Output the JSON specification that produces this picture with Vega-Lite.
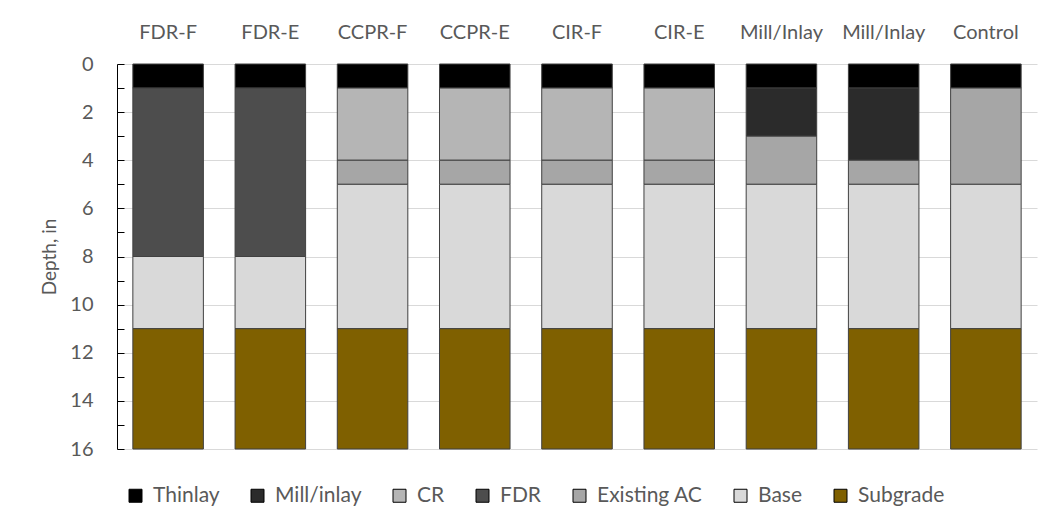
{
  "$schema": "https://vega.github.io/schema/vega-lite/v6.json",
  "width": 920,
  "height": 385,
  "autosize": {"type": "none"},
  "padding": {"left": 117, "top": 64, "right": 10, "bottom": 80},
  "background": "white",
  "config": {
    "view": {"stroke": null},
    "font": "Lato",
    "axis": {"labelFont": "Lato", "titleFont": "Lato"},
    "legend": {"labelFont": "Lato"}
  },
  "data": {
    "values": [
      {"bar": "FDR-F", "layer": "Thinlay", "top": 0, "bottom": 1},
      {"bar": "FDR-F", "layer": "FDR", "top": 1, "bottom": 8},
      {"bar": "FDR-F", "layer": "Base", "top": 8, "bottom": 11},
      {"bar": "FDR-F", "layer": "Subgrade", "top": 11, "bottom": 16},
      {"bar": "FDR-E", "layer": "Thinlay", "top": 0, "bottom": 1},
      {"bar": "FDR-E", "layer": "FDR", "top": 1, "bottom": 8},
      {"bar": "FDR-E", "layer": "Base", "top": 8, "bottom": 11},
      {"bar": "FDR-E", "layer": "Subgrade", "top": 11, "bottom": 16},
      {"bar": "CCPR-F", "layer": "Thinlay", "top": 0, "bottom": 1},
      {"bar": "CCPR-F", "layer": "CR", "top": 1, "bottom": 4},
      {"bar": "CCPR-F", "layer": "Existing AC", "top": 4, "bottom": 5},
      {"bar": "CCPR-F", "layer": "Base", "top": 5, "bottom": 11},
      {"bar": "CCPR-F", "layer": "Subgrade", "top": 11, "bottom": 16},
      {"bar": "CCPR-E", "layer": "Thinlay", "top": 0, "bottom": 1},
      {"bar": "CCPR-E", "layer": "CR", "top": 1, "bottom": 4},
      {"bar": "CCPR-E", "layer": "Existing AC", "top": 4, "bottom": 5},
      {"bar": "CCPR-E", "layer": "Base", "top": 5, "bottom": 11},
      {"bar": "CCPR-E", "layer": "Subgrade", "top": 11, "bottom": 16},
      {"bar": "CIR-F", "layer": "Thinlay", "top": 0, "bottom": 1},
      {"bar": "CIR-F", "layer": "CR", "top": 1, "bottom": 4},
      {"bar": "CIR-F", "layer": "Existing AC", "top": 4, "bottom": 5},
      {"bar": "CIR-F", "layer": "Base", "top": 5, "bottom": 11},
      {"bar": "CIR-F", "layer": "Subgrade", "top": 11, "bottom": 16},
      {"bar": "CIR-E", "layer": "Thinlay", "top": 0, "bottom": 1},
      {"bar": "CIR-E", "layer": "CR", "top": 1, "bottom": 4},
      {"bar": "CIR-E", "layer": "Existing AC", "top": 4, "bottom": 5},
      {"bar": "CIR-E", "layer": "Base", "top": 5, "bottom": 11},
      {"bar": "CIR-E", "layer": "Subgrade", "top": 11, "bottom": 16},
      {"bar": "Mill/Inlay#1", "layer": "Thinlay", "top": 0, "bottom": 1},
      {"bar": "Mill/Inlay#1", "layer": "Mill/inlay", "top": 1, "bottom": 3},
      {"bar": "Mill/Inlay#1", "layer": "Existing AC", "top": 3, "bottom": 5},
      {"bar": "Mill/Inlay#1", "layer": "Base", "top": 5, "bottom": 11},
      {"bar": "Mill/Inlay#1", "layer": "Subgrade", "top": 11, "bottom": 16},
      {"bar": "Mill/Inlay#2", "layer": "Thinlay", "top": 0, "bottom": 1},
      {"bar": "Mill/Inlay#2", "layer": "Mill/inlay", "top": 1, "bottom": 4},
      {"bar": "Mill/Inlay#2", "layer": "Existing AC", "top": 4, "bottom": 5},
      {"bar": "Mill/Inlay#2", "layer": "Base", "top": 5, "bottom": 11},
      {"bar": "Mill/Inlay#2", "layer": "Subgrade", "top": 11, "bottom": 16},
      {"bar": "Control", "layer": "Thinlay", "top": 0, "bottom": 1},
      {"bar": "Control", "layer": "Existing AC", "top": 1, "bottom": 5},
      {"bar": "Control", "layer": "Base", "top": 5, "bottom": 11},
      {"bar": "Control", "layer": "Subgrade", "top": 11, "bottom": 16}
    ]
  },
  "mark": {"type": "bar", "stroke": "#404040", "strokeWidth": 1},
  "encoding": {
    "x": {
      "field": "bar",
      "type": "nominal",
      "sort": ["FDR-F", "FDR-E", "CCPR-F", "CCPR-E", "CIR-F", "CIR-E", "Mill/Inlay#1", "Mill/Inlay#2", "Control"],
      "scale": {"paddingInner": 0.31, "paddingOuter": 0.155},
      "axis": {
        "orient": "top",
        "title": null,
        "domain": false,
        "ticks": false,
        "labelAngle": 0,
        "labelPadding": 22,
        "labelFontSize": 20,
        "labelColor": "#595959",
        "labelExpr": "split(datum.label, '#')[0]"
      }
    },
    "y": {
      "field": "top",
      "type": "quantitative",
      "scale": {"domain": [0, 16], "reverse": true, "nice": false},
      "axis": {
        "values": [0, 1, 2, 3, 4, 5, 6, 7, 8, 9, 10, 11, 12, 13, 14, 15, 16],
        "labelExpr": "datum.value % 2 === 0 ? datum.label : ''",
        "grid": true,
        "gridColor": "#d9d9d9",
        "gridWidth": 1,
        "gridOpacity": {"condition": {"test": "datum.value % 2 === 0", "value": 1}, "value": 0},
        "domainColor": "#000000",
        "domainWidth": 1,
        "tickColor": "#000000",
        "tickSize": -7,
        "labelPadding": 31,
        "labelFontSize": 20,
        "labelColor": "#595959",
        "title": "Depth, in",
        "titleFontSize": 19,
        "titleFontWeight": "normal",
        "titleColor": "#595959",
        "titlePadding": 10
      }
    },
    "y2": {"field": "bottom"},
    "color": {
      "field": "layer",
      "type": "nominal",
      "scale": {
        "domain": ["Thinlay", "Mill/inlay", "CR", "FDR", "Existing AC", "Base", "Subgrade"],
        "range": ["#000000", "#2b2b2b", "#b5b5b5", "#4d4d4d", "#a6a6a6", "#d9d9d9", "#7f6000"]
      },
      "legend": {
        "title": null,
        "orient": "none",
        "direction": "horizontal",
        "legendX": 8,
        "legendY": 421,
        "symbolType": "square",
        "symbolSize": 169,
        "symbolStrokeColor": "#000000",
        "symbolStrokeWidth": 1,
        "symbolOpacity": 1,
        "labelFontSize": 21,
        "labelColor": "#595959",
        "labelOffset": 7,
        "columnPadding": 27
      }
    }
  }
}
